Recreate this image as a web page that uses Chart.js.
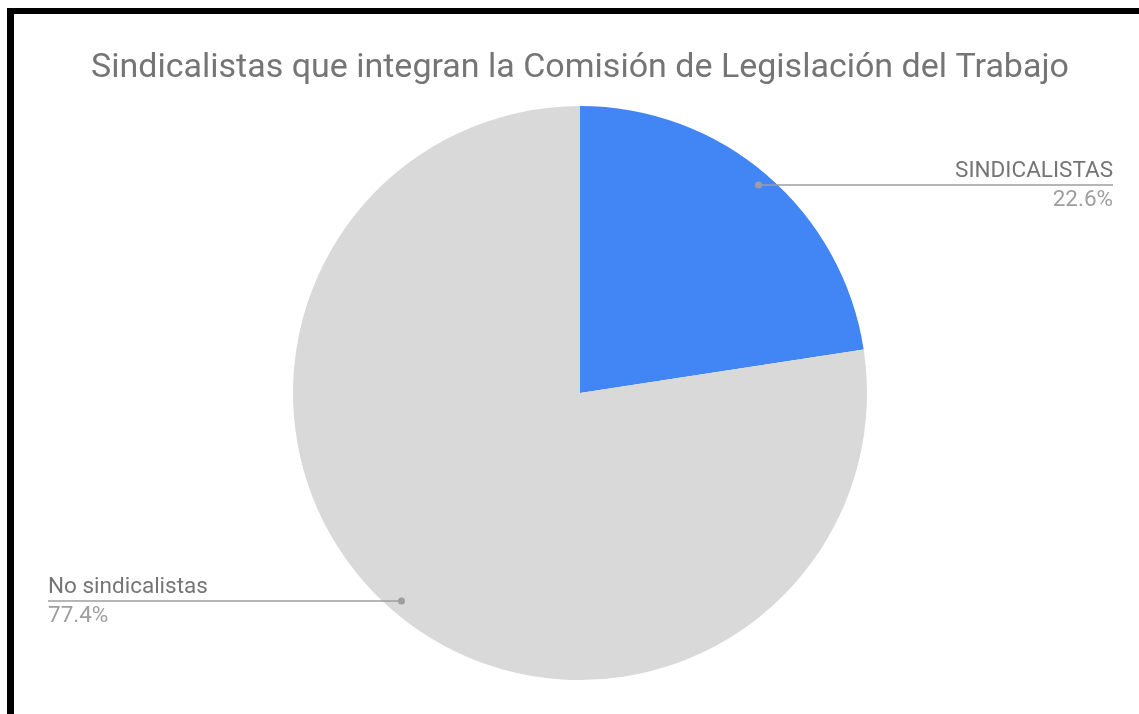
<!DOCTYPE html>
<html>
<head>
<meta charset="utf-8">
<script src="https://cdn.jsdelivr.net/npm/chart.js@4"></script>
<style>
  html, body { margin: 0; padding: 0; background: #fff; }
  #frame {
    position: absolute; left: 7px; top: 8px;
    width: 1125px; height: 700px;
    border-top: 6px solid #000; border-left: 7px solid #000;
  }
</style>
</head>
<body>
<div id="frame"><canvas id="chart" width="1125" height="700"></canvas></div>
<script>
// datos: 7 de 31 miembros son sindicalistas
const categories = ["SINDICALISTAS", "No sindicalistas"];
const members = [7, 24];
const sliceColors = ["#4285f4", "#d9d9d9"];

// etiquetas con linea guia, estilo google sheets
const leaderLabels = {
  id: "leaderLabels",
  afterDatasetsDraw(chart) {
    const ctx = chart.ctx;
    const meta = chart.getDatasetMeta(0);
    const total = members.reduce((a, b) => a + b, 0);
    meta.data.forEach((arc, i) => {
      const p = arc.getProps(["x", "y", "startAngle", "endAngle", "outerRadius"], true);
      const mid = (p.startAngle + p.endAngle) / 2;
      const r = p.outerRadius * 0.955;
      const dx = p.x + Math.cos(mid) * r;
      const dy = p.y + Math.sin(mid) * r;
      const right = Math.cos(mid) >= 0;
      const endX = right ? chart.width - 26 : 34;
      const pct = (members[i] / total * 100).toFixed(1) + "%";

      ctx.save();
      ctx.strokeStyle = "#9e9e9e";
      ctx.lineWidth = 1.5;
      ctx.beginPath();
      ctx.moveTo(dx, dy);
      ctx.lineTo(endX, dy);
      ctx.stroke();
      ctx.fillStyle = "#9e9e9e";
      ctx.beginPath();
      ctx.arc(dx, dy, 3.5, 0, Math.PI * 2);
      ctx.fill();

      ctx.font = "22.5px Roboto";
      ctx.textAlign = right ? "right" : "left";
      ctx.textBaseline = "alphabetic";
      ctx.fillStyle = "#757575";
      ctx.fillText(categories[i], endX, dy - 8);
      ctx.fillStyle = "#9e9e9e";
      ctx.fillText(pct, endX, dy + 21);
      ctx.restore();
    });
  }
};

new Chart(document.getElementById("chart"), {
  type: "pie",
  data: {
    labels: categories,
    datasets: [{
      data: members,
      backgroundColor: sliceColors,
      borderWidth: 0
    }]
  },
  options: {
    responsive: false,
    animation: false,
    layout: { padding: { left: 7, bottom: 34 } },
    plugins: {
      legend: { display: false },
      tooltip: { enabled: false },
      title: {
        display: true,
        text: "Sindicalistas que integran la Comisión de Legislación del Trabajo",
        color: "#757575",
        font: { family: "Roboto", size: 34, weight: "normal" },
        padding: { top: 33.6, bottom: 17.6 }
      }
    }
  },
  plugins: [leaderLabels]
});
</script>
</body>
</html>
